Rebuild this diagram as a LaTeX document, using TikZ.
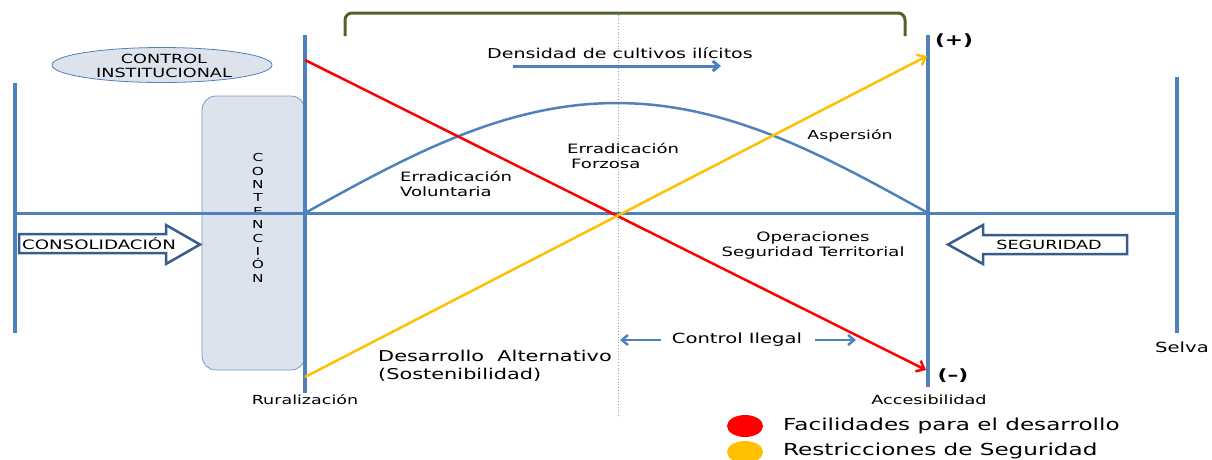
\documentclass[tikz,border=0pt]{standalone}
\usepackage{fontspec}
\setmainfont[FakeStretch=1.4]{DejaVu Sans}
\usetikzlibrary{shapes.geometric,arrows.meta}
\definecolor{axisblue}{RGB}{79,129,189}
\definecolor{darkblue}{RGB}{56,93,138}
\definecolor{boxfill}{RGB}{220,227,237}
\definecolor{olive}{RGB}{79,98,40}
\definecolor{facred}{RGB}{255,0,0}
\definecolor{resyellow}{RGB}{255,192,0}
\newcommand\fsz[2]{\fontsize{#1}{#2}\selectfont}

\begin{document}
\begin{tikzpicture}[x=1pt,y=-1pt,
    axis/.style={draw=axisblue,line width=3.5pt},
    lbl/.style={inner sep=0pt,align=center,text=black},
    bluearr/.style={-{Straight Barb[length=6pt,width=10pt]},draw=axisblue,line width=3pt},
    blockarr/.style={draw=darkblue,line width=2.5pt,fill=white,line join=miter},
    trend/.style={-{Straight Barb[length=7pt,width=12pt]},line width=2.5pt},
    legdot/.style={ellipse,minimum width=36pt,minimum height=22pt,inner sep=0pt}]
  \useasboundingbox (0,0) rectangle (1212,459);

  \coordinate (ll-t) at (15,83);   \coordinate (ll-b) at (15,333);
  \coordinate (ax-l) at (15,213);  \coordinate (ax-r) at (1177,213);
  \coordinate (rur-t) at (305,35); \coordinate (rur-b) at (305,393);
  \coordinate (acc-t) at (928,35); \coordinate (acc-b) at (928,387);
  \coordinate (sel-t) at (1177,77); \coordinate (sel-b) at (1177,333);
  \coordinate (mid-t) at (618,12); \coordinate (mid-b) at (618,418);

  \node[draw=axisblue!80,fill=boxfill,rounded corners=14pt,line width=0.8pt,
        minimum width=103pt,minimum height=274pt] (cont) at (253.5,233) {};
  \node[lbl,font=\fsz{11}{13.4}] (cont-txt) at (258,218)
    {C\\O\\N\\T\\E\\N\\C\\I\\Ó\\N};

  \draw[draw=axisblue!70,dotted,line width=0.8pt] (mid-t) -- (mid-b);
  \draw[axis,line width=3pt] (ax-l) -- (ax-r);
  \draw[axis] (ll-t) -- (ll-b);
  \draw[axis] (rur-t) -- (rur-b);
  \draw[axis] (acc-t) -- (acc-b);
  \draw[axis] (sel-t) -- (sel-b);

  \draw[draw=olive,line width=3pt,rounded corners=7pt]
    (345,36) -- (345,13) -- (905,13) -- (905,36);

  \draw[draw=axisblue,line width=2.5pt]
    plot[domain=0:180,samples=60] ({305+3.4611*\x},{213-110*sin(\x)});

  \coordinate (fac-a) at (305,60);  \coordinate (fac-b) at (926,370);
  \coordinate (res-a) at (305,377); \coordinate (res-b) at (927,56);
  \draw[trend,draw=facred] (fac-a) -- (fac-b);
  \draw[trend,draw=resyellow] (res-a) -- (res-b);

  \node[ellipse,draw=axisblue,fill=boxfill,line width=0.8pt,
        minimum width=220pt,minimum height=35pt,inner sep=0pt] (ctrl) at (162,65) {};
  \node[lbl,font=\fsz{12.6}{14.5}] (ctrl-txt) at (164,66) {CONTROL\\INSTITUCIONAL};

  \draw[blockarr] (19,234) -- (166,234) -- (166,225) -- (200,244.5)
    -- (166,264) -- (166,253) -- (19,253) -- cycle;
  \node[lbl,font=\fsz{13}{15}] (consol) at (99,244) {CONSOLIDACIÓN};
  \draw[blockarr] (1127,235) -- (983,235) -- (983,225) -- (948,244.5)
    -- (983,264) -- (983,254) -- (1127,254) -- cycle;
  \node[lbl,font=\fsz{12.6}{15}] (segur) at (1049,244.5) {SEGURIDAD};

  \node[lbl,font=\fsz{13.6}{17}] (dens) at (620,53) {Densidad de cultivos ilícitos};
  \coordinate (dens-a) at (513,66); \coordinate (dens-b) at (721,66);
  \draw[bluearr] (dens-a) -- (dens-b);

  \node[lbl,font=\fsz{12.9}{15},align=left,anchor=west] (volun) at (400,184)
    {Erradicación\\Voluntaria};
  \node[lbl,font=\fsz{12.9}{15},align=left,anchor=west] (forz) at (567,156)
    {Erradicación\\\hspace{4pt}Forzosa};
  \node[lbl,font=\fsz{12.4}{15}] (asper) at (850,136) {Aspersión};
  \node[lbl,font=\fsz{12.9}{15}] (oper) at (813,245) {Operaciones\\Seguridad Territorial};

  \node[lbl,font=\fsz{14}{16}] (cil) at (737,340) {Control Ilegal};
  \coordinate (cil-la) at (661,340); \coordinate (cil-lb) at (620,340);
  \coordinate (cil-ra) at (815,340); \coordinate (cil-rb) at (856,340);
  \draw[bluearr,line width=2.5pt] (cil-la) -- (cil-lb);
  \draw[bluearr,line width=2.5pt] (cil-ra) -- (cil-rb);

  \node[lbl,font=\fsz{14.9}{18},align=left,anchor=west] (desal) at (378,366)
    {Desarrollo\ \ Alternativo\\(Sostenibilidad)};

  \node[lbl,font={\fsz{15.5}{18}\bfseries}] (plus) at (954,41) {(+)};
  \node[lbl,font={\fsz{15.5}{18}\bfseries}] (minus) at (953,376) {(–)};
  \node[lbl,font=\fsz{12.5}{14}] (rural) at (305,400) {Ruralización};
  \node[lbl,font=\fsz{12.6}{14}] (acces) at (929,400) {Accesibilidad};
  \node[lbl,font=\fsz{14}{16}] (selva) at (1182,347) {Selva};

  \node[legdot,fill=facred] (fac-dot) at (745,426) {};
  \node[lbl,font=\fsz{16.5}{19},anchor=west] (fac-txt) at (783,426) {Facilidades para el desarrollo};
  \node[legdot,fill=resyellow] (res-dot) at (745,452) {};
  \node[lbl,font=\fsz{16.5}{19},anchor=west] (res-txt) at (783,451) {Restricciones de Seguridad};
\end{tikzpicture}
\end{document}
